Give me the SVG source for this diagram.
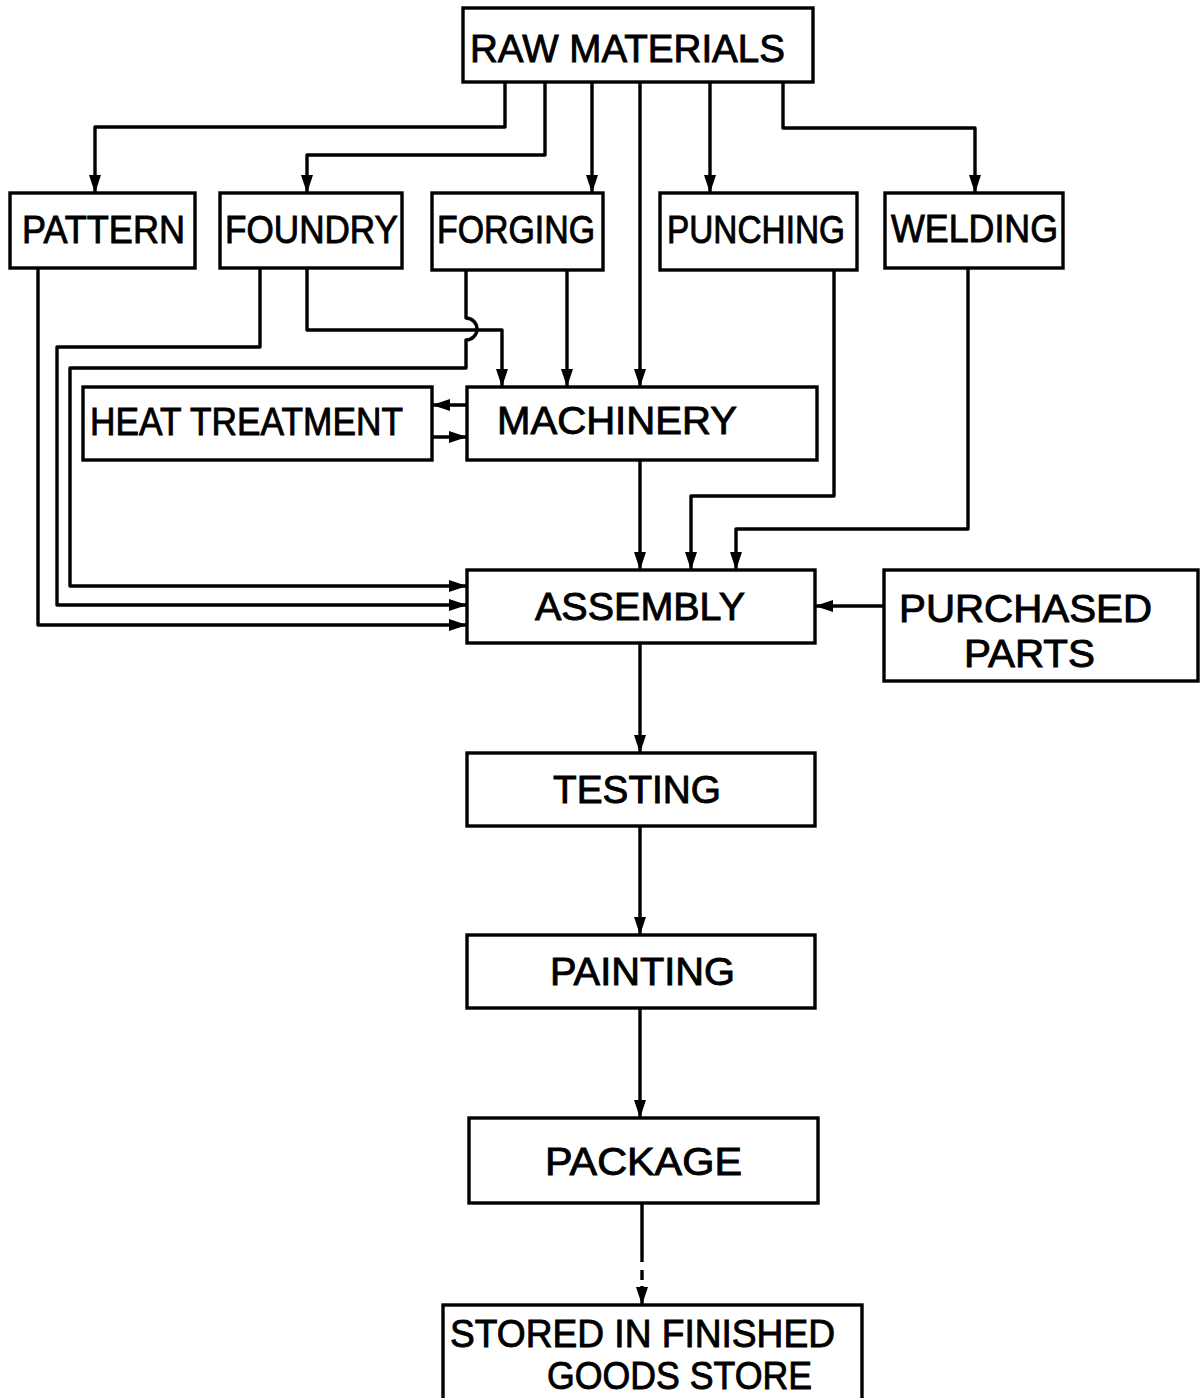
<svg xmlns="http://www.w3.org/2000/svg" width="1200" height="1398" viewBox="0 0 1200 1398">
<style>
.box{fill:#fff;stroke:#000;stroke-width:3.4}
.lbl{font-family:"Liberation Sans","DejaVu Sans",sans-serif;font-size:39px;fill:#000;stroke:#000;stroke-width:0.9}
.con{fill:none;stroke:#000;stroke-width:3.4;stroke-linejoin:round}
</style>
<defs>
<marker id="ah" viewBox="0 0 18 12" refX="18" refY="6" markerWidth="18" markerHeight="12" markerUnits="userSpaceOnUse" orient="auto">
<path d="M0,0 L18,6 L0,12 Z" fill="#000"/>
</marker>
</defs>
<rect width="1200" height="1398" fill="#fff"/>
<g id="connectors">
<path class="con" d="M505 82 V127 H95 V193" marker-end="url(#ah)"/>
<path class="con" d="M545 82 V155 H307 V193" marker-end="url(#ah)"/>
<path class="con" d="M592 82 V193" marker-end="url(#ah)"/>
<path class="con" d="M640 82 V387" marker-end="url(#ah)"/>
<path class="con" d="M710 82 V193" marker-end="url(#ah)"/>
<path class="con" d="M783 82 V128 H975 V193" marker-end="url(#ah)"/>
<path class="con" d="M38 268 V625 H467" marker-end="url(#ah)"/>
<path class="con" d="M260 268 V347 H57 V605 H467" marker-end="url(#ah)"/>
<path class="con" d="M307 268 V330 H502 V387" marker-end="url(#ah)"/>
<path class="con" d="M466 270 V318 A11 11 0 0 1 466 340 V368 H70 V586 H467" marker-end="url(#ah)"/>
<path class="con" d="M567 270 V387" marker-end="url(#ah)"/>
<path class="con" d="M467 405 H432" marker-end="url(#ah)"/>
<path class="con" d="M432 437 H467" marker-end="url(#ah)"/>
<path class="con" d="M640 460 V570" marker-end="url(#ah)"/>
<path class="con" d="M834 270 V496 H691 V570" marker-end="url(#ah)"/>
<path class="con" d="M968 268 V529 H736 V570" marker-end="url(#ah)"/>
<path class="con" d="M884 606 H815" marker-end="url(#ah)"/>
<path class="con" d="M640 643 V753" marker-end="url(#ah)"/>
<path class="con" d="M640 826 V935" marker-end="url(#ah)"/>
<path class="con" d="M640 1008 V1118" marker-end="url(#ah)"/>
<path class="con" d="M642 1203 V1262 M642 1270 V1280 M642 1286 V1305" marker-end="url(#ah)"/>
</g>
<g id="raw-materials"><rect class="box" x="463" y="8" width="350" height="74"/><text class="lbl" x="470" y="62" textLength="315" lengthAdjust="spacingAndGlyphs">RAW MATERIALS</text></g>
<g id="pattern"><rect class="box" x="10" y="193" width="185" height="75"/><text class="lbl" x="22" y="243" textLength="163" lengthAdjust="spacingAndGlyphs">PATTERN</text></g>
<g id="foundry"><rect class="box" x="220" y="193" width="182" height="75"/><text class="lbl" x="225" y="243" textLength="173" lengthAdjust="spacingAndGlyphs">FOUNDRY</text></g>
<g id="forging"><rect class="box" x="432" y="193" width="171" height="77"/><text class="lbl" x="437" y="243" textLength="158" lengthAdjust="spacingAndGlyphs">FORGING</text></g>
<g id="punching"><rect class="box" x="660" y="193" width="197" height="77"/><text class="lbl" x="667" y="243" textLength="178" lengthAdjust="spacingAndGlyphs">PUNCHING</text></g>
<g id="welding"><rect class="box" x="885" y="193" width="178" height="75"/><text class="lbl" x="891" y="242" textLength="167" lengthAdjust="spacingAndGlyphs">WELDING</text></g>
<g id="heat-treatment"><rect class="box" x="83" y="387" width="349" height="73"/><text class="lbl" x="90" y="435" textLength="313" lengthAdjust="spacingAndGlyphs">HEAT TREATMENT</text></g>
<g id="machinery"><rect class="box" x="467" y="387" width="350" height="73"/><text class="lbl" x="497" y="434" textLength="240" lengthAdjust="spacingAndGlyphs">MACHINERY</text></g>
<g id="assembly"><rect class="box" x="467" y="570" width="348" height="73"/><text class="lbl" x="535" y="620" textLength="210" lengthAdjust="spacingAndGlyphs">ASSEMBLY</text></g>
<g id="purchased-parts"><rect class="box" x="884" y="570" width="314" height="111"/><text class="lbl" x="899" y="622" textLength="253" lengthAdjust="spacingAndGlyphs">PURCHASED</text><text class="lbl" x="964" y="667" textLength="131" lengthAdjust="spacingAndGlyphs">PARTS</text></g>
<g id="testing"><rect class="box" x="467" y="753" width="348" height="73"/><text class="lbl" x="553" y="803" textLength="168" lengthAdjust="spacingAndGlyphs">TESTING</text></g>
<g id="painting"><rect class="box" x="467" y="935" width="348" height="73"/><text class="lbl" x="550" y="985" textLength="185" lengthAdjust="spacingAndGlyphs">PAINTING</text></g>
<g id="package"><rect class="box" x="469" y="1118" width="349" height="85"/><text class="lbl" x="545" y="1175" textLength="197" lengthAdjust="spacingAndGlyphs">PACKAGE</text></g>
<g id="stored"><rect class="box" x="443" y="1305" width="419" height="100"/><text class="lbl" x="450" y="1347" textLength="385" lengthAdjust="spacingAndGlyphs">STORED IN FINISHED</text><text class="lbl" x="547" y="1389" textLength="265" lengthAdjust="spacingAndGlyphs">GOODS STORE</text></g>
</svg>
